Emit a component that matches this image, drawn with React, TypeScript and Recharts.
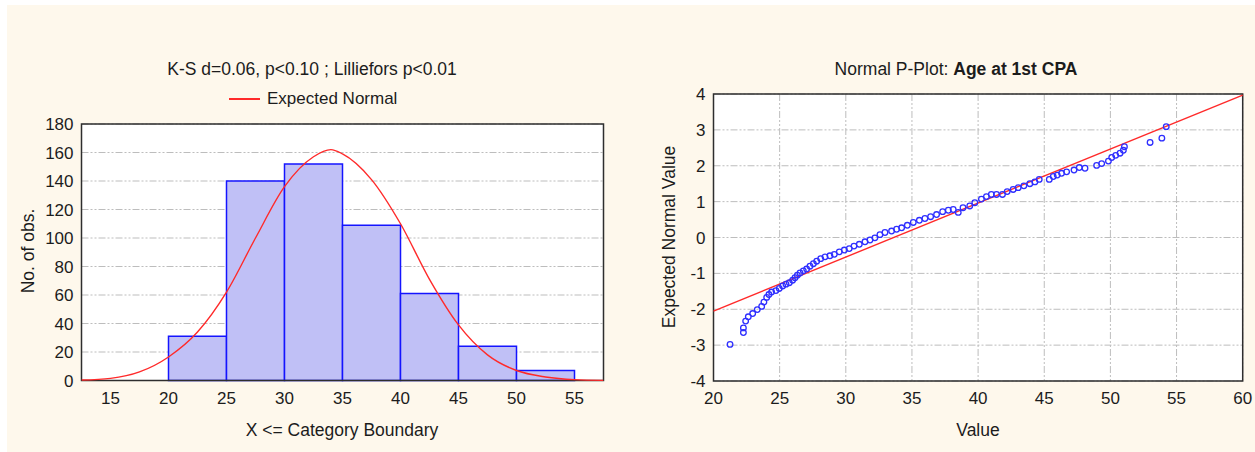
import React from 'react';
import {
  ComposedChart,
  Line,
  Scatter,
  XAxis,
  YAxis,
  CartesianGrid,
  ReferenceArea,
  ReferenceLine,
} from 'recharts';

// histogram bins (category boundaries) and counts
const binStarts = [20, 25, 30, 35, 40, 45, 50];
const binEnds = [25, 30, 35, 40, 45, 50, 55];
const binCounts = [31, 140, 152, 109, 61, 24, 7];

// expected normal curve
const normalX = [12.5, 15, 17.5, 20, 22.5, 25, 27.5, 30, 32.5, 34, 35, 37.5, 40, 42.5, 45, 47.5, 50, 52.5, 55, 57.5];
const normalY = [0.3, 1.5, 6, 16.5, 34, 62, 100, 136, 157, 162, 159, 141, 110, 71, 39, 18, 7, 2.5, 0.6, 0.1];

const histXTicks = [15, 20, 25, 30, 35, 40, 45, 50, 55];
const histYTicks = [0, 20, 40, 60, 80, 100, 120, 140, 160, 180];

// normal probability plot points
const ppValue = [
  21.25, 22.26, 22.26, 22.43, 22.63, 22.96, 23.31, 23.64, 23.81, 24.02, 24.19, 24.39, 24.72, 24.97,
  25.23, 25.48, 25.73, 25.98, 26.16, 26.34, 26.54, 26.79, 27.04, 27.29, 27.55, 27.8, 28.1, 28.43,
  28.8, 29.13, 29.51, 29.89, 30.26, 30.62, 31.02, 31.45, 31.83, 32.2, 32.58, 32.96, 33.46, 33.84,
  34.22, 34.65, 35.1, 35.56, 35.98, 36.41, 36.86, 37.32, 37.75, 38.12, 38.5, 38.86, 39.37, 39.75,
  40.25, 40.63, 41.0, 41.39, 41.84, 42.2, 42.65, 43.03, 43.46, 43.91, 44.29, 44.62, 45.38, 45.68,
  45.98, 46.31, 46.69, 47.25, 47.65, 48.08, 48.96, 49.34, 49.85, 50.1, 50.4, 50.73, 50.98, 51.06,
  53.0, 53.89, 54.22,
];
const ppExpected = [
  -2.98, -2.65, -2.52, -2.33, -2.21, -2.12, -2.01, -1.92, -1.8, -1.67, -1.59, -1.52, -1.48, -1.42,
  -1.35, -1.3, -1.26, -1.19, -1.12, -1.05, -0.99, -0.93, -0.88, -0.8, -0.73, -0.66, -0.59, -0.54,
  -0.51, -0.47, -0.4, -0.35, -0.31, -0.24, -0.19, -0.12, -0.07, -0.01, 0.08, 0.14, 0.18, 0.23,
  0.27, 0.34, 0.42, 0.48, 0.53, 0.58, 0.64, 0.72, 0.76, 0.78, 0.7, 0.83, 0.88, 0.97,
  1.07, 1.14, 1.2, 1.2, 1.2, 1.28, 1.34, 1.39, 1.44, 1.5, 1.55, 1.62, 1.62, 1.7,
  1.74, 1.79, 1.83, 1.88, 1.95, 1.93, 2.01, 2.06, 2.13, 2.23, 2.29, 2.35, 2.43, 2.53,
  2.65, 2.77, 3.09,
];
const fitLineX = [20, 60];
const fitLineY = [-2.05, 3.97];

const ppXTicks = [20, 25, 30, 35, 40, 45, 50, 55, 60];
const ppYTicks = [-4, -3, -2, -1, 0, 1, 2, 3, 4];

const FONT = '"Liberation Sans", Arial, sans-serif';
const TEXT = '#1c1c1c';
const GRID = '#bdbdbd';
const DASH = '7 2 2 2 2 2';
const BORDER = '#2e2e2e';

const tickStyle = { fontSize: 17, fill: TEXT, fontFamily: FONT };
const noTick = () => <g />;

const curveData = normalX.map((x, i) => ({ x, expected: normalY[i] }));
const ppData = ppValue.map((v, i) => ({ value: v, expected: ppExpected[i] }));

const Label = ({ x, y, rotate, size = 17.5, children }: any) => (
  <div
    style={{
      position: 'absolute',
      left: x,
      top: y,
      transform: `translate(-50%, -50%)${rotate ? ' rotate(-90deg)' : ''}`,
      whiteSpace: 'nowrap',
      fontSize: size,
      lineHeight: 1,
      color: TEXT,
    }}
  >
    {children}
  </div>
);

const ring = (props: any) => (
  <circle cx={props.cx} cy={props.cy} r={2.8} fill="none" stroke="#2f2fff" strokeWidth={1.3} />
);

const App: React.FC = () => (
  <div
    style={{
      position: 'absolute',
      left: 0,
      top: 0,
      width: 1255,
      height: 452,
      background: '#fff',
      fontFamily: FONT,
      overflow: 'hidden',
    }}
  >
    <div style={{ position: 'absolute', left: 7, top: 5, right: 0, bottom: 0, background: '#fef8ec' }} />

    {/* histogram */}
    <div style={{ position: 'absolute', left: 0, top: 0 }}>
      <ComposedChart width={620} height={452} data={curveData} margin={{ top: 124, right: 16.5, bottom: 41.5, left: 21.5 }}>
        <CartesianGrid vertical={false} stroke={GRID} strokeDasharray={DASH} fill="#fff" fillOpacity={1} />
        <XAxis
          dataKey="x"
          type="number"
          domain={[12.5, 57.5]}
          ticks={histXTicks}
          allowDataOverflow
          axisLine={false}
          tickLine={false}
          tickMargin={5}
          tick={tickStyle}
          height={30}
        />
        <YAxis type="number" domain={[0, 180]} ticks={histYTicks} axisLine={false} tickLine={false} tick={tickStyle} width={60} />
        <XAxis xAxisId="top" orientation="top" type="number" domain={[12.5, 57.5]} ticks={histXTicks} mirror height={0} tick={noTick} axisLine={false} tickSize={4} tickLine={{ stroke: BORDER }} />
        <YAxis yAxisId="right" orientation="right" type="number" domain={[0, 180]} ticks={histYTicks} mirror width={0} tick={noTick} axisLine={false} tickSize={4} tickLine={{ stroke: BORDER }} />
        {binStarts.map((s, i) => (
          <ReferenceArea
            key={s}
            x1={s}
            x2={binEnds[i]}
            y1={0}
            y2={binCounts[i]}
            fill="#c0c0f6"
            fillOpacity={1}
            stroke="#1414ff"
            strokeWidth={1.5}
          />
        ))}
        <Line dataKey="expected" type="monotone" stroke="#ff2a2a" strokeWidth={1.4} dot={false} isAnimationActive={false} />
        <ReferenceArea x1={12.5} x2={57.5} y1={0} y2={180} fill="none" stroke={BORDER} strokeWidth={1.5} />
      </ComposedChart>
    </div>

    <Label x={312} y={70}>K-S d=0.06, p&lt;0.10 ; Lilliefors p&lt;0.01</Label>
    <div style={{ position: 'absolute', left: 229, top: 98, width: 31, height: 1.5, background: '#ff2a2a' }} />
    <div style={{ position: 'absolute', left: 267, top: 90, fontSize: 17, lineHeight: 1, color: TEXT, whiteSpace: 'nowrap' }}>
      Expected Normal
    </div>
    <Label x={29} y={251} rotate>No. of obs.</Label>
    <Label x={342} y={431}>X &lt;= Category Boundary</Label>

    {/* normal probability plot */}
    <div style={{ position: 'absolute', left: 620, top: 0 }}>
      <ComposedChart width={635} height={452} margin={{ top: 94, right: 12.3, bottom: 41, left: 33.5 }}>
        <CartesianGrid stroke={GRID} strokeDasharray={DASH} fill="#fff" fillOpacity={1} />
        <XAxis
          dataKey="value"
          type="number"
          domain={[20, 60]}
          ticks={ppXTicks}
          allowDataOverflow
          axisLine={false}
          tickLine={false}
          tickMargin={5}
          tick={tickStyle}
          height={30}
        />
        <YAxis dataKey="expected" type="number" domain={[-4, 4]} ticks={ppYTicks} allowDataOverflow axisLine={false} tickLine={false} tick={tickStyle} width={60} />
        <XAxis xAxisId="top" orientation="top" type="number" domain={[20, 60]} ticks={ppXTicks} mirror height={0} tick={noTick} axisLine={false} tickSize={4} tickLine={{ stroke: BORDER }} />
        <YAxis yAxisId="right" orientation="right" type="number" domain={[-4, 4]} ticks={ppYTicks} mirror width={0} tick={noTick} axisLine={false} tickSize={4} tickLine={{ stroke: BORDER }} />
        <Scatter data={ppData} dataKey="expected" shape={ring} isAnimationActive={false} />
        <ReferenceLine
          segment={[
            { x: fitLineX[0], y: fitLineY[0] },
            { x: fitLineX[1], y: fitLineY[1] },
          ]}
          stroke="#ff2a2a"
          strokeWidth={1.4}
        />
        <ReferenceArea x1={20} x2={60} y1={-4} y2={4} fill="none" stroke={BORDER} strokeWidth={1.5} />
      </ComposedChart>
    </div>

    <Label x={956} y={70}>
      Normal P-Plot: <b>Age at 1st CPA</b>
    </Label>
    <Label x={670} y={237} rotate>Expected Normal Value</Label>
    <Label x={978} y={431}>Value</Label>
  </div>
);

export default App;
